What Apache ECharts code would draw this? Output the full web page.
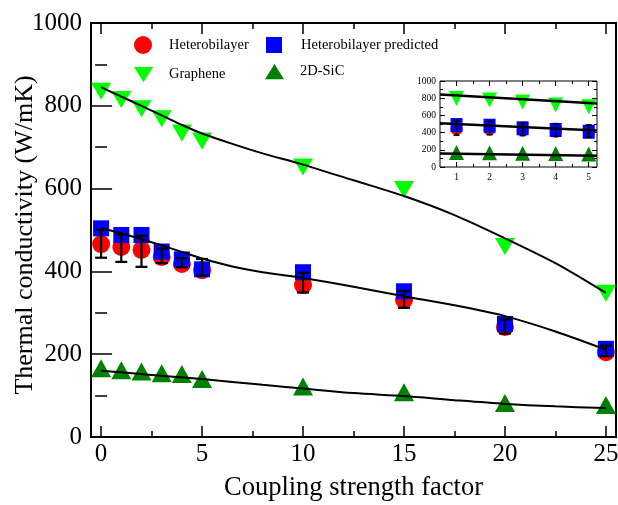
<!DOCTYPE html>
<html><head><meta charset="utf-8">
<script src="https://cdn.jsdelivr.net/npm/echarts@6/dist/echarts.min.js"></script>
<style>html,body{margin:0;padding:0;background:#fff}#c{width:618px;height:505px}</style>
</head><body><div id="c"></div>
<script>
// ---- main chart data ----
const xVals = [0, 1, 2, 3, 4, 5, 10, 15, 20, 25];
const heteroVals = [466, 459, 452, 435, 418, 403, 367, 331, 266, 205];
const predVals = [504, 488, 488, 448, 429, 405, 398, 352, 273, 213];
const errLow = [433, 423, 411, 420, 410, 390, 349, 312, 250, 195];
const errHigh = [500, 489, 486, 455, 432, 430, 397, 353, 284, 221];
const grapheneVals = [835, 815, 793, 769, 734, 715, 652, 598, 460, 347];
const sicVals = [166, 161, 158, 154, 152, 140, 122, 108, 82, 77];

const grapheneFitX = [0, 1, 2, 3, 4, 5, 6.5, 8, 10, 12.5, 15, 17.5, 20, 22.5, 25];
const grapheneFitY = [845, 822, 800, 777, 754, 733, 708, 685, 658, 620, 582, 536, 480, 420, 348];
const heteroFitX = [0, 1, 2, 3, 4, 5, 6.5, 8, 10, 12.5, 15, 17.5, 20, 22.5, 25];
const heteroFitY = [505, 492, 478, 463, 447, 431, 412, 398, 384, 363, 340, 318, 292, 255, 211];
const sicFitX = [0, 2.5, 5, 8, 10, 12.5, 15, 17.5, 20, 22.5, 25];
const sicFitY = [160, 150, 140, 126, 117, 106, 99, 89, 80, 74, 70];

const xMajorTicks = [0, 5, 10, 15, 20, 25];
const xMinorTicks = [2.5, 7.5, 12.5, 17.5, 22.5];

// ---- inset data ----
const insetX = [1, 2, 3, 4, 5];
const insetGraphene = [797, 780, 755, 720, 700];
const insetPred = [488, 480, 450, 430, 410];
const insetHetero = [440, 435, 425, 410, 400];
const insetSic = [170, 165, 160, 158, 150];
const insetErrLow = [370, 375, 365, 355, 345];
const insetErrHigh = [540, 530, 515, 505, 490];
const insetFitX = [0.5, 5.25];
const insetGrapheneFit = [843, 739];
const insetHeteroFit = [508, 423];
const insetSicFit = [157, 130];
const insetMajorTicks = [1, 2, 3, 4, 5];
const insetMinorTicks = [1.5, 2.5, 3.5, 4.5];

const FONT = 'Liberation Serif';
const zip = (a, b) => a.map((v, i) => [v, b[i]]);
const plain = v => String(v);

function errItem(hw, lw) {
  return function (params, api) {
    const x = api.value(0);
    const lo = api.coord([x, api.value(1)]);
    const hi = api.coord([x, api.value(2)]);
    const st = { stroke: '#000', lineWidth: lw };
    return { type: 'group', children: [
      { type: 'line', shape: { x1: lo[0], y1: lo[1], x2: hi[0], y2: hi[1] }, style: st },
      { type: 'line', shape: { x1: lo[0] - hw, y1: lo[1], x2: lo[0] + hw, y2: lo[1] }, style: st },
      { type: 'line', shape: { x1: hi[0] - hw, y1: hi[1], x2: hi[0] + hw, y2: hi[1] }, style: st }
    ]};
  };
}

function xAx(grid, min, max, pos, ticks, len, w, labels, extra) {
  return Object.assign({
    type: 'value', gridIndex: grid, min: min, max: max, position: pos,
    axisLine: { show: false },
    axisTick: { show: true, inside: true, length: len, customValues: ticks, lineStyle: { color: '#000', width: w } },
    axisLabel: labels ? { show: true, customValues: labels.v, formatter: plain, fontFamily: FONT, fontSize: labels.fs, color: '#000', margin: labels.m } : { show: false },
    splitLine: { show: false }
  }, extra || {});
}

function yAx(grid, pos, len, mlen, w, labels, extra) {
  return Object.assign({
    type: 'value', gridIndex: grid, min: 0, max: 1000, interval: 200, position: pos,
    axisLine: { show: false },
    axisTick: { inside: true, length: len, lineStyle: { color: '#000', width: w } },
    minorTick: { show: true, splitNumber: 2, length: mlen, lineStyle: { color: '#000', width: w } },
    axisLabel: labels ? { formatter: plain, fontFamily: FONT, fontSize: labels.fs, color: '#000', margin: labels.m } : { show: false },
    splitLine: { show: false }
  }, extra || {});
}

const legText = pad => ({ fontFamily: FONT, fontSize: 14.5, color: '#000', padding: [0, 0, 0, pad] });

const chart = echarts.init(document.getElementById('c'), null, { renderer: 'canvas' });
const lineSt = { color: '#000', width: 2 };

chart.setOption({
  animation: false,
  backgroundColor: '#fff',
  grid: [
    { left: 91, top: 23, right: 2, bottom: 68, containLabel: false, outerBoundsMode: 'none',
      show: true, borderColor: '#000', borderWidth: 2, backgroundColor: 'transparent' },
    { left: 440, top: 81, width: 157, height: 86, containLabel: false, outerBoundsMode: 'none',
      show: true, borderColor: '#000', borderWidth: 1, backgroundColor: '#fff' }
  ],
  legend: [
    { left: 134, top: 36, padding: 0, itemWidth: 18, itemHeight: 18, data: [{ name: 'Heterobilayer', icon: 'circle' }], textStyle: legText(12) },
    { left: 266, top: 37, padding: 0, itemWidth: 16, itemHeight: 16, data: [{ name: 'Heterobilayer predicted', icon: 'rect' }], textStyle: legText(14) },
    { left: 134, top: 67, padding: 0, itemWidth: 19, itemHeight: 16, data: [{ name: 'Graphene', icon: 'path://M0,0 L20,0 L10,16 Z' }], textStyle: legText(11) },
    { left: 265, top: 64, padding: 0, itemWidth: 19, itemHeight: 16, data: [{ name: '2D-SiC', icon: 'path://M10,0 L20,16 L0,16 Z' }], textStyle: legText(11) }
  ],
  xAxis: [
    xAx(0, -0.5, 25.5, 'bottom', xMajorTicks, 11, 1.5, { v: xMajorTicks, fs: 25, m: 5 },
      { name: 'Coupling strength factor', nameLocation: 'middle', nameGap: 38, nameMoveOverlap: false,
        nameTextStyle: { fontFamily: FONT, fontSize: 26.5, color: '#000' } }),
    xAx(0, -0.5, 25.5, 'bottom', xMinorTicks, 6, 1.5, null),
    xAx(0, -0.5, 25.5, 'top', xMajorTicks, 11, 1.5, null),
    xAx(0, -0.5, 25.5, 'top', xMinorTicks, 6, 1.5, null),
    xAx(1, 0.5, 5.25, 'bottom', insetMajorTicks, 5, 1, { v: insetMajorTicks, fs: 9.5, m: 5 }),
    xAx(1, 0.5, 5.25, 'bottom', insetMinorTicks, 3, 1, null),
    xAx(1, 0.5, 5.25, 'top', insetMajorTicks, 5, 1, null),
    xAx(1, 0.5, 5.25, 'top', insetMinorTicks, 3, 1, null)
  ],
  yAxis: [
    yAx(0, 'left', 11, 6, 1.5, { fs: 25, m: 9 },
      { name: 'Thermal conductivity (W/mK)', nameLocation: 'middle', nameGap: 53, nameMoveOverlap: false,
        nameTextStyle: { fontFamily: FONT, fontSize: 26, color: '#000', padding: [0, 10, 0, 0] } }),
    yAx(0, 'right', 11, 6, 1.5, null),
    yAx(1, 'left', 5, 3, 1, { fs: 9.5, m: 4 }),
    yAx(1, 'right', 5, 3, 1, null)
  ],
  series: [
    { name: 'Heterobilayer', type: 'scatter', xAxisIndex: 0, yAxisIndex: 0, data: zip(xVals, heteroVals),
      symbol: 'circle', symbolSize: 18, itemStyle: { color: '#ff0000', opacity: 1 }, z: 2 },
    { name: 'Heterobilayer predicted', type: 'scatter', xAxisIndex: 0, yAxisIndex: 0, data: zip(xVals, predVals),
      symbol: 'rect', symbolSize: 16, itemStyle: { color: '#0000ff', opacity: 1 }, z: 3 },
    { name: 'Graphene', type: 'scatter', xAxisIndex: 0, yAxisIndex: 0, data: zip(xVals, grapheneVals),
      symbol: 'triangle', symbolRotate: 180, symbolSize: [20, 17], itemStyle: { color: '#00ff00', opacity: 1 }, z: 3 },
    { name: '2D-SiC', type: 'scatter', xAxisIndex: 0, yAxisIndex: 0, data: zip(xVals, sicVals),
      symbol: 'triangle', symbolSize: [20, 18], itemStyle: { color: '#008000', opacity: 1 }, z: 3 },
    { name: 'Graphene fit', type: 'line', xAxisIndex: 0, yAxisIndex: 0, data: zip(grapheneFitX, grapheneFitY),
      smooth: 0.3, showSymbol: false, lineStyle: lineSt, z: 4 },
    { name: 'Heterobilayer fit', type: 'line', xAxisIndex: 0, yAxisIndex: 0, data: zip(heteroFitX, heteroFitY),
      smooth: 0.3, showSymbol: false, lineStyle: lineSt, z: 4 },
    { name: '2D-SiC fit', type: 'line', xAxisIndex: 0, yAxisIndex: 0, data: zip(sicFitX, sicFitY),
      smooth: 0.3, showSymbol: false, lineStyle: lineSt, z: 4 },
    { name: 'Error', type: 'custom', xAxisIndex: 0, yAxisIndex: 0,
      data: xVals.map((x, i) => [x, errLow[i], errHigh[i]]), encode: { x: 0, y: [1, 2] },
      renderItem: errItem(6, 2.2), z: 5 },

    // inset
    { name: 'Inset heterobilayer', type: 'scatter', xAxisIndex: 4, yAxisIndex: 2, data: zip(insetX, insetHetero),
      symbol: 'circle', symbolSize: 12, itemStyle: { color: '#ff0000', opacity: 1 }, z: 12 },
    { name: 'Inset predicted', type: 'scatter', xAxisIndex: 4, yAxisIndex: 2, data: zip(insetX, insetPred),
      symbol: 'rect', symbolSize: [12, 14], itemStyle: { color: '#0000ff', opacity: 1 }, z: 13 },
    { name: 'Inset graphene', type: 'scatter', xAxisIndex: 4, yAxisIndex: 2, data: zip(insetX, insetGraphene),
      symbol: 'triangle', symbolRotate: 180, symbolSize: [15, 15], itemStyle: { color: '#00ff00', opacity: 1 }, z: 13 },
    { name: 'Inset 2D-SiC', type: 'scatter', xAxisIndex: 4, yAxisIndex: 2, data: zip(insetX, insetSic),
      symbol: 'triangle', symbolSize: [15, 15], itemStyle: { color: '#008000', opacity: 1 }, z: 13 },
    { name: 'Inset graphene fit', type: 'line', xAxisIndex: 4, yAxisIndex: 2, data: zip(insetFitX, insetGrapheneFit),
      showSymbol: false, lineStyle: { color: '#000', width: 2.5 }, z: 14 },
    { name: 'Inset heterobilayer fit', type: 'line', xAxisIndex: 4, yAxisIndex: 2, data: zip(insetFitX, insetHeteroFit),
      showSymbol: false, lineStyle: { color: '#000', width: 2.5 }, z: 14 },
    { name: 'Inset 2D-SiC fit', type: 'line', xAxisIndex: 4, yAxisIndex: 2, data: zip(insetFitX, insetSicFit),
      showSymbol: false, lineStyle: { color: '#000', width: 2.5 }, z: 14 },
    { name: 'Inset error', type: 'custom', xAxisIndex: 4, yAxisIndex: 2,
      data: insetX.map((x, i) => [x, insetErrLow[i], insetErrHigh[i]]), encode: { x: 0, y: [1, 2] },
      renderItem: errItem(3, 1.5), z: 15 }
  ]
});
</script>
</body></html>
